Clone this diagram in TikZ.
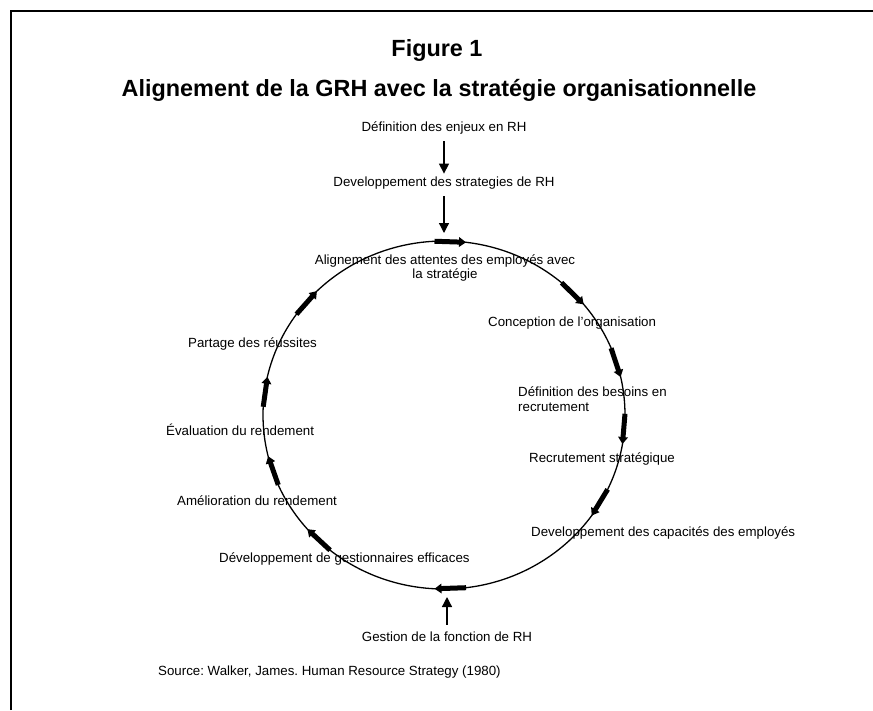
\documentclass[tikz,border=0pt]{standalone}
\usepackage{fontspec}
\setmainfont{Liberation Sans}
\usetikzlibrary{arrows.meta, positioning, calc}
\frenchspacing

\tikzset{
    lbl/.style  = {font=\fontsize{13.3}{15}\selectfont, inner sep=1pt},
    ttl/.style  = {font=\fontsize{23.4}{27}\selectfont\bfseries, inner sep=1pt},
    flow/.style = {line width=1.3pt, shorten <=6pt, -{Triangle[length=10pt, width=10pt]}},
    cyc/.style  = {line width=5pt, -{Triangle[length=7pt, width=9.5pt]}},
}

\begin{document}
\begin{tikzpicture}[x=1pt, y=-1pt]
    \useasboundingbox (0,0) rectangle (873,710);
    \draw[line width=1.5pt] (11,710) -- (11,11) -- (873,11);

    \node[ttl] (fig) at (437,50) {Figure 1};
    \node[ttl] (title) at (439,90) {Alignement de la GRH avec la stratégie organisationnelle};

    \node[lbl] (enjeux) at (444,128) {Définition des enjeux en RH};
    \node[lbl] (strat) at (444,183) {Developpement des strategies de RH};

    % le cycle
    \draw[line width=1.3pt] (444,415) ellipse [x radius=181pt, y radius=174pt];
    \coordinate (ctop) at (444,233);
    \coordinate (cbot) at (447,597);
    \foreach \a [count=\i] in {88, 44.5, 17.6, -4.6, -30.3, -88, -134, -161.3, 172.3, 139.6}{
        \coordinate (S\i) at ({444+181*cos(\a+5)}, {415-174*sin(\a+5)});
        \coordinate (E\i) at ({444+181*cos(\a-5)}, {415-174*sin(\a-5)});
        \draw[cyc] (S\i) -- (E\i);
    }

    \node[lbl, align=center, font=\fontsize{13.3}{12}\selectfont] (align) at (445,268)
        {Alignement des attentes des employés avec\\la stratégie};
    \node[lbl, anchor=west] (concep) at (487,323) {Conception de l'organisation};
    \node[lbl, anchor=west, align=left] (besoins) at (517,399)
        {Définition des besoins en\\recrutement};
    \node[lbl, anchor=west] (recrut) at (528,459) {Recrutement stratégique};
    \node[lbl, anchor=west] (capac) at (530,533) {Developpement des capacités des employés};
    \node[lbl, anchor=west] (gest) at (218,559) {Développement de gestionnaires efficaces};
    \node[lbl, anchor=west] (amelio) at (176,501) {Amélioration du rendement};
    \node[lbl, anchor=west] (evalu) at (165,430) {Évaluation du rendement};
    \node[lbl, anchor=west] (partage) at (187,344) {Partage des réussites};

    \node[lbl] (gestion) at (447,637) {Gestion de la fonction de RH};
    \node[lbl, anchor=west] (source) at (157,672) {Source: Walker, James. Human Resource Strategy (1980)};

    \draw[flow, shorten >=2pt] (enjeux) -- (strat);
    \draw[flow] (strat) -- (ctop);
    \draw[flow] (gestion) -- (cbot);
\end{tikzpicture}
\end{document}
